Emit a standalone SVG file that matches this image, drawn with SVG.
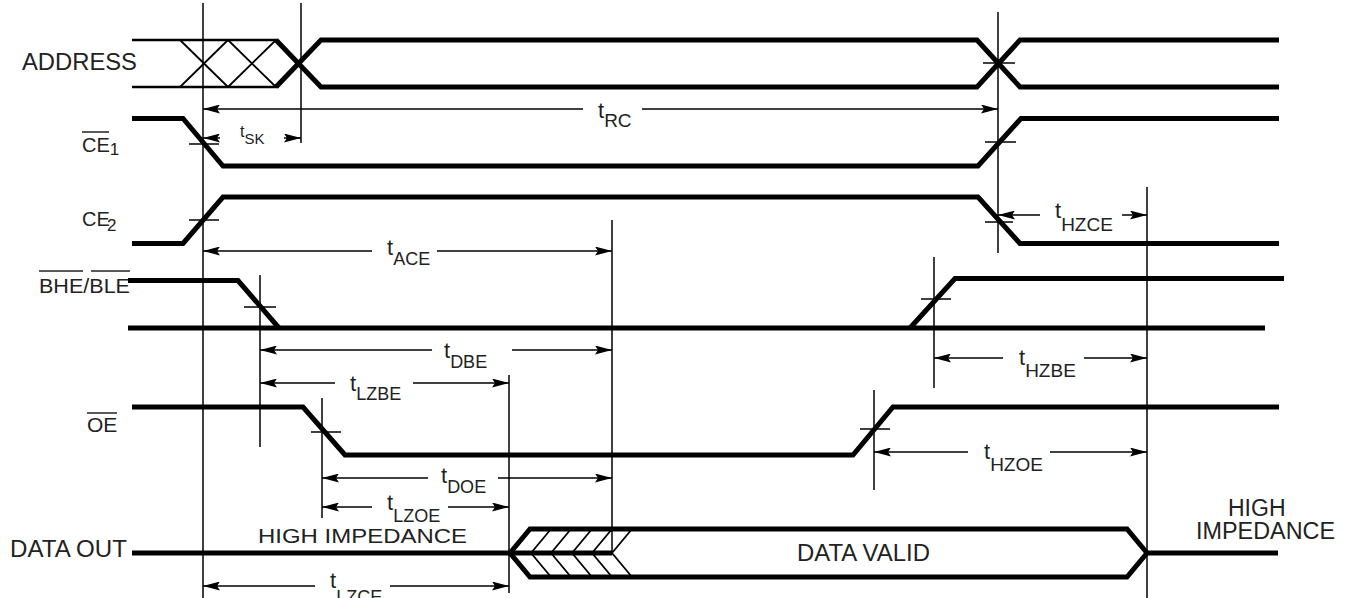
<svg xmlns="http://www.w3.org/2000/svg" width="1348" height="598" viewBox="0 0 1348 598">
<style>
.sig{fill:none;stroke:#000;stroke-width:5;stroke-linejoin:miter;stroke-linecap:butt}
.med{fill:none;stroke:#000;stroke-width:2.5}
.thin{fill:none;stroke:#000;stroke-width:1.8}
.ref{fill:none;stroke:#000;stroke-width:1.5}
.tick{fill:none;stroke:#000;stroke-width:1.5}
.arr{fill:none;stroke:#000;stroke-width:1.5;marker-end:url(#ah)}
.lbl{font-family:"Liberation Sans",Arial,sans-serif;fill:#222}
.ov{stroke:#222;stroke-width:1.5}
</style>
<defs>
<marker id="ah" viewBox="0 0 17 9" refX="17" refY="4.5" markerWidth="17" markerHeight="9" markerUnits="userSpaceOnUse" orient="auto"><path d="M0,0 L17,4.5 L0,9 L3,4.5 Z" fill="#000"/></marker>
</defs>
<rect width="1348" height="598" fill="#fff"/>

<g id="connectors">
  <line class="ref" x1="203" y1="3" x2="203" y2="598"/>
  <line class="ref" x1="301" y1="3" x2="301" y2="143"/>
  <line class="ref" x1="998" y1="12" x2="998" y2="253"/>
  <line class="ref" x1="612" y1="220" x2="612" y2="555"/>
  <line class="ref" x1="1147" y1="187" x2="1147" y2="598"/>
  <line class="ref" x1="260" y1="275" x2="260" y2="447"/>
  <line class="ref" x1="934" y1="257" x2="934" y2="388"/>
  <line class="ref" x1="509" y1="375" x2="509" y2="593"/>
  <line class="ref" x1="322" y1="398" x2="322" y2="518"/>
  <line class="ref" x1="874" y1="390" x2="874" y2="490"/>
  <line class="tick" x1="983" y1="63" x2="1015" y2="63"/>
  <line class="tick" x1="189" y1="144" x2="219" y2="144"/>
  <line class="tick" x1="985" y1="142" x2="1016" y2="142"/>
  <line class="tick" x1="189" y1="220" x2="219" y2="220"/>
  <line class="tick" x1="985" y1="222" x2="1013" y2="222"/>
  <line class="tick" x1="244" y1="307" x2="276" y2="307"/>
  <line class="tick" x1="921" y1="299" x2="951" y2="299"/>
  <line class="tick" x1="311" y1="432" x2="341" y2="432"/>
  <line class="tick" x1="860" y1="429" x2="890" y2="429"/>
  <line class="arr" x1="583" y1="109" x2="203" y2="109"/>
  <line class="arr" x1="642" y1="109" x2="998" y2="109"/>
  <line class="arr" x1="220" y1="138" x2="203" y2="138"/>
  <line class="arr" x1="284" y1="138" x2="301" y2="138"/>
  <line class="arr" x1="372" y1="251" x2="203" y2="251"/>
  <line class="arr" x1="437" y1="251" x2="612" y2="251"/>
  <line class="arr" x1="1040" y1="215" x2="998" y2="215"/>
  <line class="arr" x1="1122" y1="215" x2="1147" y2="215"/>
  <line class="arr" x1="432" y1="350" x2="260" y2="350"/>
  <line class="arr" x1="512" y1="350" x2="612" y2="350"/>
  <line class="arr" x1="1003" y1="358" x2="934" y2="358"/>
  <line class="arr" x1="1084" y1="358" x2="1147" y2="358"/>
  <line class="arr" x1="335" y1="383" x2="260" y2="383"/>
  <line class="arr" x1="413" y1="383" x2="509" y2="383"/>
  <line class="arr" x1="968" y1="452" x2="874" y2="452"/>
  <line class="arr" x1="1050" y1="452" x2="1147" y2="452"/>
  <line class="arr" x1="428" y1="478" x2="322" y2="478"/>
  <line class="arr" x1="498" y1="478" x2="612" y2="478"/>
  <line class="arr" x1="372" y1="507" x2="322" y2="507"/>
  <line class="arr" x1="448" y1="507" x2="509" y2="507"/>
  <line class="arr" x1="315" y1="586" x2="203" y2="586"/>
  <line class="arr" x1="390" y1="586" x2="509" y2="586"/>
</g>

<g id="timing-labels" class="lbl">
  <text x="598" y="118" font-size="22">t<tspan font-size="19" y="127">RC</tspan></text>
  <text x="240" y="137" font-size="16">t<tspan font-size="15" y="144">SK</tspan></text>
  <text x="387" y="255" font-size="22">t<tspan font-size="18" y="265">ACE</tspan></text>
  <text x="1055" y="218" font-size="22">t<tspan font-size="19" y="231">HZCE</tspan></text>
  <text x="444" y="358" font-size="22">t<tspan font-size="18" y="368">DBE</tspan></text>
  <text x="1019" y="365" font-size="22">t<tspan font-size="19" y="377">HZBE</tspan></text>
  <text x="350" y="391" font-size="22">t<tspan font-size="18" y="400">LZBE</tspan></text>
  <text x="984" y="459" font-size="22">t<tspan font-size="19" y="471">HZOE</tspan></text>
  <text x="441" y="483" font-size="22">t<tspan font-size="18" y="493">DOE</tspan></text>
  <text x="387" y="510" font-size="22">t<tspan font-size="18" y="522">LZOE</tspan></text>
  <text x="330" y="588" font-size="22">t<tspan font-size="18" y="603">LZCE</tspan></text>
</g>

<g id="address">
  <text class="lbl" x="22" y="70" font-size="23" textLength="115" lengthAdjust="spacingAndGlyphs">ADDRESS</text>
  <line class="med" x1="132" y1="40" x2="277" y2="40"/>
  <line class="med" x1="132" y1="87" x2="277" y2="87"/>
  <path class="thin" d="M180,40 L228,87 M180,87 L228,40 M228,40 L276,87 M228,87 L276,40"/>
  <path class="sig" d="M276,40 L321,87 L977,87 L1020,40 L1279,40"/>
  <path class="sig" d="M276,87 L321,40 L977,40 L1020,87 L1279,87"/>
</g>

<g id="ce1">
  <text class="lbl" x="82" y="152" font-size="20">CE<tspan font-size="17" y="155">1</tspan></text>
  <line class="ov" x1="82" y1="132" x2="109" y2="132"/>
  <path class="sig" d="M132,118.5 L183,118.5 L223,166 L978,166 L1021,118.5 L1279,118.5"/>
</g>

<g id="ce2">
  <text class="lbl" x="82" y="226" font-size="20">CE</text>
  <text class="lbl" x="107" y="231" font-size="17">2</text>
  <path class="sig" d="M132,243.5 L183,243.5 L223,197 L978,197 L1020,243.5 L1279,243.5"/>
</g>

<g id="bhe-ble">
  <text class="lbl" x="39" y="293" font-size="21" textLength="91" lengthAdjust="spacingAndGlyphs">BHE/BLE</text>
  <line class="ov" x1="39" y1="271" x2="83" y2="271"/>
  <line class="ov" x1="91" y1="271" x2="130" y2="271"/>
  <path class="sig" d="M128,280.5 L238,280.5 L279,328"/>
  <path class="sig" d="M128,328 L1265,328"/>
  <path class="sig" d="M910,328 L955,278.5 L1284,278.5"/>
</g>

<g id="oe">
  <text class="lbl" x="87" y="432" font-size="21">OE</text>
  <line class="ov" x1="87" y1="413" x2="117" y2="413"/>
  <path class="sig" d="M132,407 L303,407 L345,455 L853,455 L893,407 L1279,407"/>
</g>

<g id="data-out">
  <text class="lbl" x="10" y="557" font-size="23" textLength="117" lengthAdjust="spacingAndGlyphs">DATA OUT</text>
  <text class="lbl" x="258" y="543" font-size="21" textLength="209" lengthAdjust="spacingAndGlyphs">HIGH IMPEDANCE</text>
  <path class="sig" d="M132,553 L612,553"/>
  <path class="sig" d="M510,553 L530,529 L1127,529 L1147,553 L1127,577 L530,577 Z"/>
  <path class="sig" d="M1147,553 L1278,553"/>
  <path class="thin" d="M531,553 L551,529 M551,553 L571,529 M572,553 L592,529 M592,553 L612,529 M612,553 L632,529 M531,553 L551,577 M551,553 L571,577 M572,553 L592,577 M592,553 L612,577 M612,553 L632,577"/>
  <text class="lbl" x="797" y="561" font-size="23" textLength="133" lengthAdjust="spacingAndGlyphs">DATA VALID</text>
  <text class="lbl" x="1228" y="516" font-size="23">HIGH</text>
  <text class="lbl" x="1196" y="539" font-size="23" textLength="139" lengthAdjust="spacingAndGlyphs">IMPEDANCE</text>
</g>
</svg>
